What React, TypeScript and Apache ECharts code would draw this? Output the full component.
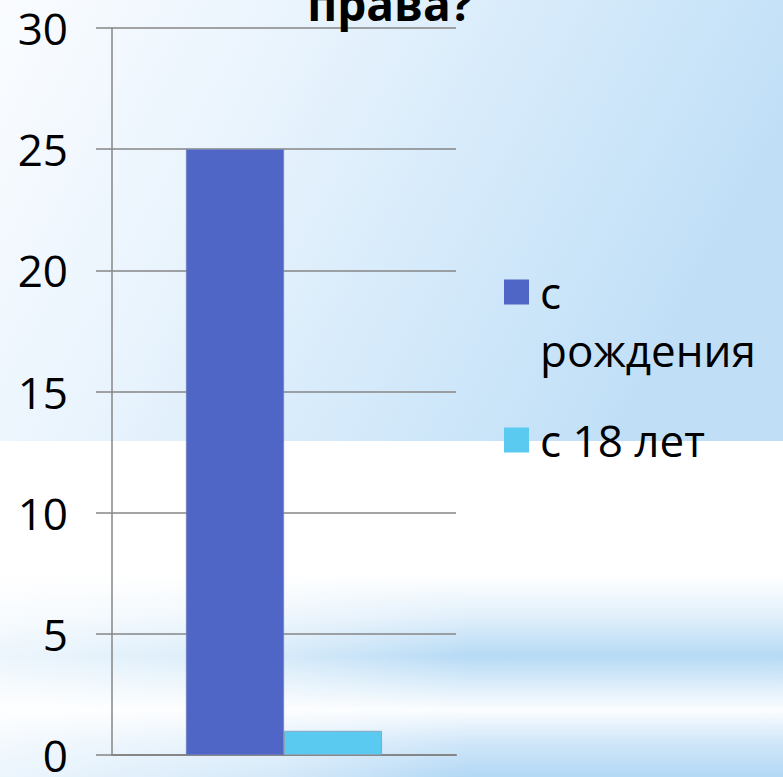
import React, { useEffect, useRef } from "react";
import * as echarts from "echarts";

const categories = ["Категория 1"];
const seriesNames = ["с рождения", "с 18 лет"];
const valuesBirth = [25];
const values18 = [1];
const yTicks = { min: 0, max: 30, interval: 5 };
const titleText = "права?";
const legendFirstLine = "с";
const legendSecondLine = "рождения";

const FONT = "'Open Sans', 'Noto Sans', 'DejaVu Sans', sans-serif";

export default function App() {
  const ref = useRef<HTMLDivElement>(null);
  useEffect(() => {
    const chart = echarts.init(ref.current!, null, { renderer: "svg" });
    chart.setOption({
      animation: false,
      backgroundColor: "#ffffff",
      graphic: [
        {
          type: "rect",
          silent: true,
          z: -10,
          shape: { x: 0, y: 0, width: 783, height: 441 },
          style: {
            fill: {
              type: "linear", x: 0, y: 0, x2: 1, y2: 0.3,
              colorStops: [
                { offset: 0, color: "#fafcff" },
                { offset: 0.35, color: "#eaf4fd" },
                { offset: 0.7, color: "#d3e9fa" },
                { offset: 1, color: "#c0dff7" },
              ],
            },
          },
        },
        {
          type: "rect",
          silent: true,
          z: -10,
          shape: { x: 0, y: 441, width: 783, height: 336 },
          style: {
            fill: {
              type: "linear", x: 0, y: 0, x2: 0, y2: 1,
              colorStops: [
                { offset: 0, color: "#ffffff" },
                { offset: 0.4, color: "#ffffff" },
                { offset: 0.52, color: "#e2f0fb" },
                { offset: 0.64, color: "#b6daf5" },
                { offset: 0.72, color: "#d9ecfa" },
                { offset: 0.8, color: "#fbfdff" },
                { offset: 0.9, color: "#cfe6f9" },
                { offset: 1, color: "#b3d8f5" },
              ],
            },
          },
        },
        {
          type: "rect",
          silent: true,
          z: -9,
          shape: { x: 0, y: 441, width: 783, height: 336 },
          style: {
            fill: {
              type: "linear", x: 0, y: 0, x2: 1, y2: 0,
              colorStops: [
                { offset: 0, color: "rgba(255,255,255,0.75)" },
                { offset: 0.35, color: "rgba(255,255,255,0.45)" },
                { offset: 0.6, color: "rgba(255,255,255,0)" },
                { offset: 1, color: "rgba(255,255,255,0)" },
              ],
            },
          },
        },
        {
          type: "text",
          z: 10,
          x: 540,
          y: 350,
          style: {
            text: legendSecondLine,
            fontFamily: FONT,
            fontSize: 44,
            fill: "#000",
            verticalAlign: "middle",
            align: "left",
          },
        },
      ],
      title: {
        text: titleText,
        left: 385,
        textAlign: "center",
        top: -25,
        textStyle: {
          fontFamily: FONT,
          fontWeight: "bold",
          fontSize: 46,
          color: "#000",
        },
      },
      legend: {
        orient: "vertical",
        left: 504,
        top: 270,
        padding: 0,
        itemWidth: 25,
        itemHeight: 25,
        itemGap: 104,
        icon: "rect",
        formatter: (name: string) => (name === seriesNames[0] ? legendFirstLine : name),
        textStyle: {
          fontFamily: FONT,
          fontSize: 44,
          lineHeight: 25,
          color: "#000",
          padding: [0, 0, 0, 6],
        },
        itemStyle: { borderWidth: 0 },
      },
      grid: { left: 112, right: 327, top: 28, bottom: 18, containLabel: false },
      xAxis: {
        type: "category",
        data: categories,
        axisLine: { show: true, lineStyle: { color: "#868686", width: 2 } },
        axisTick: { show: false },
        axisLabel: { show: false },
      },
      yAxis: {
        type: "value",
        min: yTicks.min,
        max: yTicks.max,
        interval: yTicks.interval,
        axisLine: { show: true, lineStyle: { color: "#868686", width: 1.5 } },
        axisTick: { show: true, length: 16, lineStyle: { color: "#868686", width: 1.5 } },
        splitLine: { show: true, lineStyle: { color: "#868686", width: 1.5 } },
        axisLabel: {
          margin: 44,
          fontFamily: FONT,
          fontSize: 44,
          color: "#000",
        },
      },
      series: [
        {
          name: seriesNames[0],
          type: "bar",
          data: valuesBirth,
          barGap: "0%",
          barCategoryGap: "43%",
          itemStyle: { color: "#4f66c7", borderColor: "#7e8bb5", borderWidth: 0.5 },
        },
        {
          name: seriesNames[1],
          type: "bar",
          data: values18,
          itemStyle: { color: "#5bcaf1", borderColor: "#8aa7c0", borderWidth: 1 },
        },
      ],
    });
    return () => chart.dispose();
  }, []);
  return <div ref={ref} style={{ width: 783, height: 777, position: "absolute", left: 0, top: 0 }} />;
}
